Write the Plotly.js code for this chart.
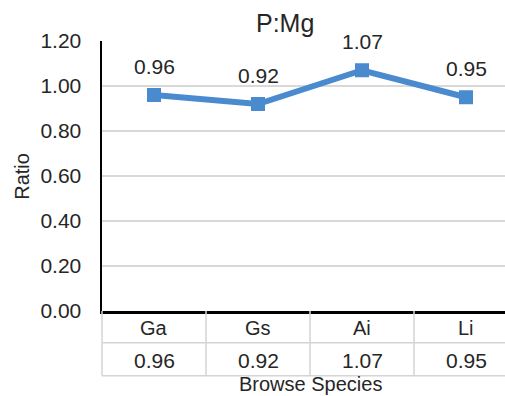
<!DOCTYPE html>
<html>
<head>
<meta charset="utf-8">
<script src="https://cdn.plot.ly/plotly-3.0.1.min.js"></script>
<style>html,body{margin:0;padding:0;background:#fff;}#chart{width:505px;height:396px;}</style>
</head>
<body>
<div id="chart"></div>
<script>
const categories = ["Ga", "Gs", "Ai", "Li"];
const values = [0.96, 0.92, 1.07, 0.95];
const yTicks = [0, 0.2, 0.4, 0.6, 0.8, 1.0, 1.2];

const FONT = "Liberation Sans, Arial, sans-serif";
const TXT = "#262626";
const idx = categories.map((c, i) => i);

const trace = {
  x: idx,
  y: values,
  type: "scatter",
  mode: "lines+markers",
  line: {color: "#4a8bd0", width: 6},
  marker: {symbol: "square", size: 14, color: "#4a8bd0"},
  hoverinfo: "skip",
  cliponaxis: false
};

const rowTop = 0, rowMid = -0.118, rowBot = -0.240;
const shapes = [];
const grey = "#d4d4d4";
[rowMid, rowBot].forEach(y => shapes.push({type: "line", xref: "paper", yref: "paper", x0: 0, x1: 1.05, y0: y, y1: y, line: {color: grey, width: 1.5}}));
shapes.push({type: "line", xref: "paper", yref: "paper", x0: 0, x1: 0, y0: rowTop, y1: rowBot, line: {color: grey, width: 1.5}});
for (let i = 0; i < categories.length - 1; i++) {
  shapes.push({type: "line", xref: "x", yref: "paper", x0: i + 0.5, x1: i + 0.5, y0: rowTop, y1: rowBot, line: {color: grey, width: 1.5}});
}

const annotations = [];
categories.forEach((c, i) => {
  annotations.push({x: i, y: -0.063, xref: "x", yref: "paper", text: c, showarrow: false, yanchor: "middle", font: {family: FONT, size: 20, color: TXT}});
  annotations.push({x: i, y: -0.185, xref: "x", yref: "paper", text: values[i].toFixed(2), showarrow: false, yanchor: "middle", font: {family: FONT, size: 21, color: TXT}});
  annotations.push({x: i, y: values[i], xref: "x", yref: "y", text: values[i].toFixed(2), showarrow: false, yanchor: "middle", yshift: 29, font: {family: FONT, size: 21, color: TXT}});
});
annotations.push({x: 1.5, y: -0.269, xref: "x", yref: "paper", text: "Browse Species", showarrow: false, yanchor: "middle", borderpad: 0, font: {family: FONT, size: 20, color: TXT}});
annotations.push({x: -0.199, y: 0.5, xref: "paper", yref: "paper", text: "Ratio", textangle: -90, showarrow: false, xanchor: "center", yanchor: "middle", font: {family: FONT, size: 20, color: TXT}});
annotations.push({x: 0.454, y: 1.067, xref: "paper", yref: "paper", text: "P:Mg", showarrow: false, xanchor: "center", yanchor: "middle", font: {family: FONT, size: 25, color: TXT}});

const layout = {
  width: 505, height: 396,
  margin: {l: 102, r: 0, t: 41, b: 85, pad: 0},
  paper_bgcolor: "#fff", plot_bgcolor: "#fff",
  showlegend: false,
  xaxis: {
    range: [-0.5, 3.375],
    showticklabels: false, ticks: "", showgrid: false, zeroline: false,
    showline: true, linecolor: "#000", linewidth: 2.5, fixedrange: true
  },
  yaxis: {
    range: [0, 1.2],
    tickvals: yTicks,
    ticktext: yTicks.map(v => v.toFixed(2)),
    tickfont: {family: FONT, size: 21, color: TXT},
    ticks: "", ticklabelstandoff: 14,
    showgrid: true, gridcolor: "#d9d9d9", gridwidth: 1.5,
    zeroline: false, showline: true, linecolor: "#000", linewidth: 2.5, fixedrange: true
  },
  shapes: shapes,
  annotations: annotations
};

Plotly.newPlot("chart", [trace], layout, {displayModeBar: false, staticPlot: true});
</script>
</body>
</html>
